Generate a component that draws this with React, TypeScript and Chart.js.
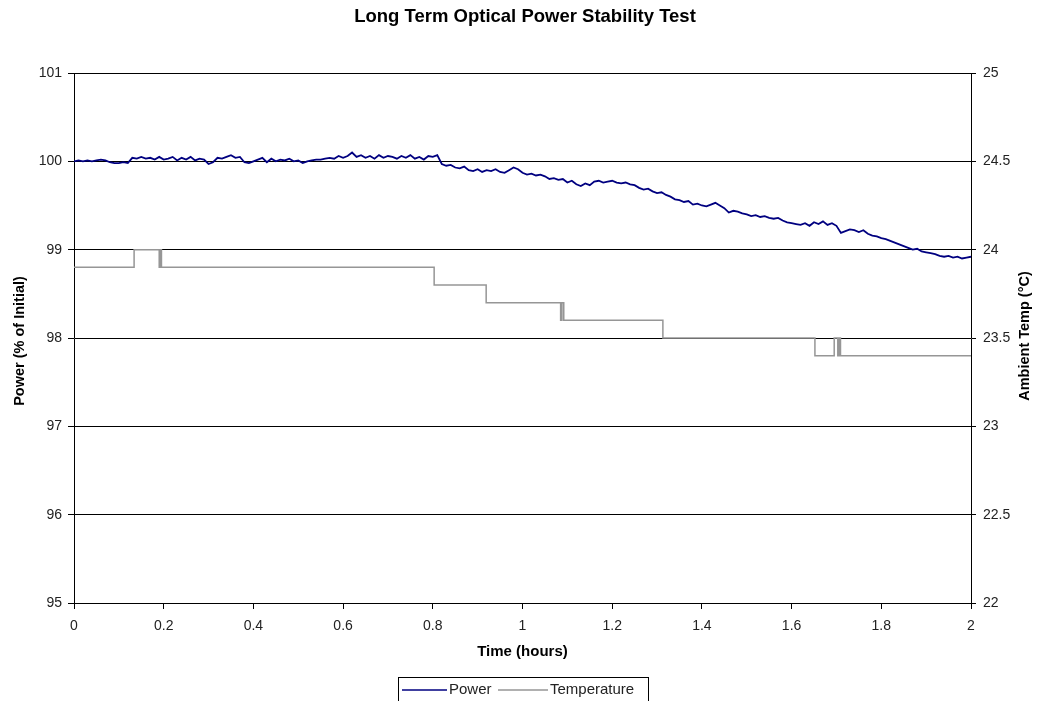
import React, { useEffect, useRef } from "react";
import { Chart, registerables } from "chart.js";

Chart.register(...registerables);

const chartTitle = "Long Term Optical Power Stability Test";
const xTitle = "Time (hours)";
const yLeftTitle = "Power (% of Initial)";
const yRightTitle = "Ambient Temp (°C)";
const seriesNames = ["Power", "Temperature"];

// Power (% of initial), sampled every 0.01 h from 0 to 2 h
const powerStep = 0.01;
const powerValues = [
  100.00, 100.01, 100.00, 100.01, 100.00, 100.01, 100.02, 100.01, 99.99, 99.98,
  99.98, 99.99, 99.98, 100.04, 100.03, 100.05, 100.03, 100.04, 100.02, 100.05,
  100.02, 100.03, 100.05, 100.01, 100.04, 100.02, 100.05, 100.01, 100.03, 100.02,
  99.97, 99.99, 100.04, 100.03, 100.05, 100.07, 100.04, 100.05, 99.99, 99.98,
  100.00, 100.02, 100.04, 99.99, 100.03, 100.00, 100.02, 100.01, 100.03, 100.00,
  100.01, 99.98, 100.00, 100.01, 100.02, 100.02, 100.03, 100.04, 100.03, 100.06,
  100.04, 100.06, 100.10, 100.05, 100.07, 100.04, 100.06, 100.03, 100.07, 100.04,
  100.06, 100.05, 100.03, 100.06, 100.04, 100.07, 100.03, 100.05, 100.02, 100.06,
  100.05, 100.07, 99.97, 99.95, 99.96, 99.93, 99.92, 99.94, 99.90, 99.89,
  99.91, 99.88, 99.90, 99.89, 99.91, 99.88, 99.87, 99.90, 99.93, 99.91,
  99.87, 99.85, 99.86, 99.84, 99.85, 99.83, 99.80, 99.81, 99.79, 99.80,
  99.76, 99.78, 99.74, 99.72, 99.75, 99.73, 99.77, 99.78, 99.76, 99.77,
  99.78, 99.76, 99.75, 99.76, 99.74, 99.73, 99.70, 99.68, 99.69, 99.66,
  99.64, 99.65, 99.62, 99.60, 99.57, 99.56, 99.54, 99.55, 99.51, 99.52,
  99.50, 99.49, 99.51, 99.53, 99.50, 99.47, 99.42, 99.44, 99.43, 99.41,
  99.40, 99.38, 99.39, 99.37, 99.38, 99.36, 99.35, 99.36, 99.33, 99.31,
  99.30, 99.29, 99.28, 99.30, 99.27, 99.31, 99.29, 99.32, 99.28, 99.30,
  99.27, 99.19, 99.21, 99.23, 99.22, 99.20, 99.22, 99.18, 99.16, 99.15,
  99.13, 99.12, 99.10, 99.08, 99.06, 99.04, 99.02, 99.00, 99.01, 98.98,
  98.97, 98.96, 98.95, 98.93, 98.92, 98.93, 98.91, 98.92, 98.90, 98.91,
  98.92,
];

// Temperature change points (hours) and the value that starts at each
const tempTimes = [
  0, 0.134, 0.190, 0.192, 0.195, 0.803, 0.919, 1.085, 1.088, 1.092,
  1.313, 1.652, 1.695, 1.703, 1.706, 1.709, 2.0,
];
const tempValues = [
  23.9, 24.0, 23.9, 24.0, 23.9, 23.8, 23.7, 23.6, 23.7, 23.6,
  23.5, 23.4, 23.5, 23.4, 23.5, 23.4, 23.4,
];

const xTicksStep = 0.2;
const leftTickStep = 1;
const rightTickStep = 0.5;

const FONT = "'Liberation Sans', Arial, sans-serif";
const POWER_COLOR = "#000080";
const TEMP_COLOR = "#969696";
const TICK_COLOR = "#222";

const fmt = (v: any) => String(Number(Number(v).toFixed(2)));

const overlayPlugin = {
  id: "overlay",
  afterDraw(chart: any) {
    const ctx = chart.ctx;
    const ca = chart.chartArea;
    ctx.save();
    ctx.fillStyle = "#000";
    ctx.textAlign = "center";
    ctx.textBaseline = "middle";
    ctx.font = `bold 18.5px ${FONT}`;
    ctx.fillText(chartTitle, 525, 17);
    ctx.font = `bold 15px ${FONT}`;
    ctx.fillText(xTitle, (ca.left + ca.right) / 2, 652);
    const midY = (ca.top + ca.bottom) / 2;
    ctx.font = `bold 14.5px ${FONT}`;
    ctx.save();
    ctx.translate(20, midY + 3);
    ctx.rotate(-Math.PI / 2);
    ctx.fillText(yLeftTitle, 0, 0);
    ctx.restore();
    ctx.save();
    ctx.translate(1025, midY - 2);
    ctx.rotate(-Math.PI / 2);
    ctx.fillText(yRightTitle, 0, 0);
    ctx.restore();

    // legend
    ctx.strokeStyle = "#000";
    ctx.lineWidth = 1;
    ctx.strokeRect(398.5, 677.5, 250, 30);
    ctx.font = `15px ${FONT}`;
    ctx.fillStyle = TICK_COLOR;
    ctx.textAlign = "left";
    ctx.lineWidth = 1.5;
    ctx.strokeStyle = POWER_COLOR;
    ctx.beginPath();
    ctx.moveTo(402, 690);
    ctx.lineTo(447, 690);
    ctx.stroke();
    ctx.fillText(seriesNames[0], 449, 690);
    ctx.strokeStyle = TEMP_COLOR;
    ctx.beginPath();
    ctx.moveTo(498, 690);
    ctx.lineTo(548, 690);
    ctx.stroke();
    ctx.fillText(seriesNames[1], 550, 690);
    ctx.restore();
  },
};

export default function App() {
  const canvasRef = useRef<HTMLCanvasElement | null>(null);

  useEffect(() => {
    document.body.style.margin = "0";
    const canvas = canvasRef.current;
    if (!canvas) return;
    const powerData = powerValues.map((v, i) => ({ x: i * powerStep, y: v }));
    const tempData = tempTimes.map((t, i) => ({ x: t, y: tempValues[i] }));

    const chart = new Chart(canvas, {
      type: "line",
      data: {
        datasets: [
          {
            label: seriesNames[0],
            data: powerData,
            borderColor: POWER_COLOR,
            backgroundColor: POWER_COLOR,
            borderWidth: 1.8,
            pointRadius: 0,
            tension: 0,
            yAxisID: "y",
          },
          {
            label: seriesNames[1],
            data: tempData,
            borderColor: TEMP_COLOR,
            backgroundColor: TEMP_COLOR,
            borderWidth: 1.5,
            pointRadius: 0,
            stepped: true,
            yAxisID: "y1",
          },
        ],
      },
      options: {
        responsive: false,
        animation: false,
        layout: { padding: { top: 73, left: 0, right: 0, bottom: 58 } },
        plugins: {
          legend: { display: false },
          title: { display: false },
          tooltip: { enabled: false },
        },
        scales: {
          x: {
            type: "linear",
            min: 0,
            max: 2,
            ticks: {
              stepSize: xTicksStep,
              color: TICK_COLOR,
              font: { family: FONT, size: 14 },
              padding: 9,
              maxRotation: 0,
              callback: fmt,
            },
            grid: {
              drawOnChartArea: false,
              color: "#000",
              tickLength: 6,
            },
            border: { color: "#000", width: 1 },
            afterFit: (s: any) => {
              s.height = 40;
            },
          },
          y: {
            position: "left",
            min: 95,
            max: 101,
            ticks: {
              stepSize: leftTickStep,
              color: TICK_COLOR,
              font: { family: FONT, size: 14 },
              padding: 6,
              callback: fmt,
            },
            grid: { color: "#000", tickLength: 6 },
            border: { color: "#000", width: 1 },
            afterFit: (s: any) => {
              s.width = 74;
            },
          },
          y1: {
            position: "right",
            min: 22,
            max: 25,
            ticks: {
              stepSize: rightTickStep,
              color: TICK_COLOR,
              font: { family: FONT, size: 14 },
              padding: 7,
              callback: fmt,
            },
            grid: { drawOnChartArea: false, color: "#000", tickLength: 5 },
            border: { color: "#000", width: 1 },
            afterFit: (s: any) => {
              s.width = 66;
            },
          },
        },
      },
      plugins: [overlayPlugin],
    });
    return () => chart.destroy();
  }, []);

  return (
    <div style={{ width: 1037, height: 701 }}>
      <canvas ref={canvasRef} width={1037} height={701} />
    </div>
  );
}
